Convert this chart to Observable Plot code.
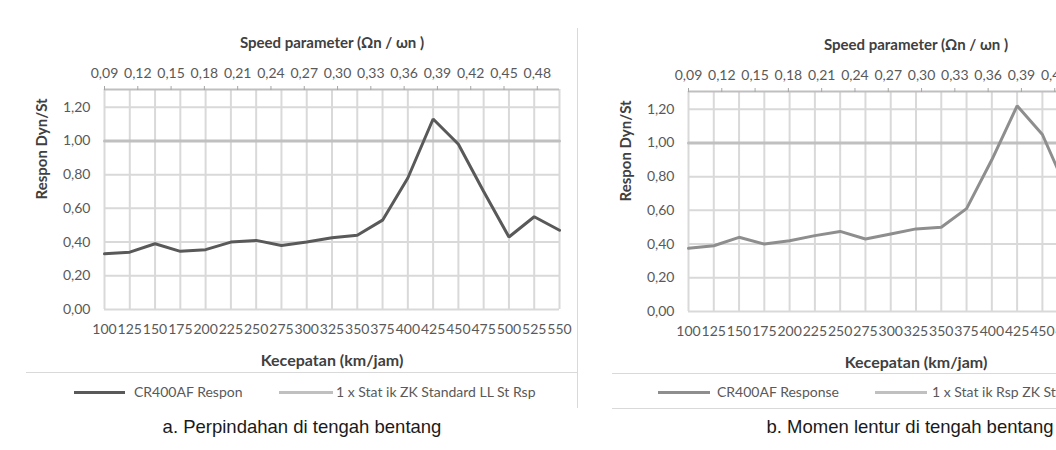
<!DOCTYPE html>
<html>
<head>
<meta charset="utf-8">
<script src="https://cdn.jsdelivr.net/npm/d3@7"></script>
<script src="https://cdn.jsdelivr.net/npm/@observablehq/plot@0.6"></script>
<style>
  html, body { margin: 0; padding: 0; background: #fff; }
  body { width: 1056px; height: 450px; overflow: hidden; position: relative; font-family: Lato, sans-serif; }
  .panel { position: absolute; width: 575px; height: 372px; }
  .panel svg { max-width: none !important; }
  .hline, .vline { position: absolute; background: #D9D9D9; }
  .legend { position: absolute; height: 18px; font-family: Lato, sans-serif; font-size: 14px; color: #595959; white-space: nowrap; }
  .legend .sw { position: absolute; top: 8px; height: 3px; }
  .legend .lb { position: absolute; top: 0; line-height: 18px; }
  .caption { position: absolute; font-family: "Liberation Sans", Arial, sans-serif; font-size: 18.5px; line-height: 22px; color: #1a1a1a; white-space: nowrap; transform: translateX(-50%); }
</style>
</head>
<body>
<div id="chartA" class="panel" style="left:0; top:0;"></div>
<div id="chartB" class="panel" style="left:584px; top:2px;"></div>
<script>
// ---- data ----
const speeds = [100,125,150,175,200,225,250,275,300,325,350,375,400,425,450,475,500,525,550]; // km/jam
const respA = [0.33,0.34,0.39,0.345,0.355,0.40,0.41,0.38,0.40,0.425,0.44,0.53,0.78,1.13,0.98,0.70,0.43,0.55,0.47];
const respB = [0.375,0.39,0.44,0.40,0.42,0.45,0.475,0.43,0.46,0.49,0.50,0.61,0.90,1.22,1.05,0.71,null,null,null];
const statik = [1,1,1,1,1,1,1,1,1,1,1,1,1,1,1,1,1,1,1];
const yTicks = [0,0.2,0.4,0.6,0.8,1.0,1.2];
const speedParamTicks = [0.09,0.12,0.15,0.18,0.21,0.24,0.27,0.30,0.33,0.36,0.39,0.42,0.45,0.48];
const speedParamRange = [0.09, 0.50];
const yMax = 1.305;

const titleTop = "Speed parameter (Ωn / ωn )";
const titleX = "Kecepatan (km/jam)";
const titleY = "Respon Dyn/St";
const legendA = ["CR400AF Respon", "1 x Stat ik ZK Standard LL St Rsp"];
const legendB = ["CR400AF Response", "1 x Stat ik Rsp ZK Standard LL St Rsp"];
const captions = ["a. Perpindahan di tengah bentang", "b. Momen lentur di tengah bentang"];

const colorA = "#595959", colorB = "#8E8E8E", colorStatik = "#C0C0C0", gridColor = "#D9D9D9";

// secondary (top) axis spans the same plot width as the km/jam axis
const paramToKmh = p => speeds[0] + (p - speedParamRange[0]) / (speedParamRange[1] - speedParamRange[0]) * (speeds[speeds.length-1] - speeds[0]);
const kmhToParam = k => speedParamRange[0] + (k - speeds[0]) / (speeds[speeds.length-1] - speeds[0]) * (speedParamRange[1] - speedParamRange[0]);
const comma2 = v => v.toFixed(2).replace(".", ",");

function chart(resp, color) {
  const rows = speeds.map((s, i) => ({s, v: resp[i], st: statik[i]}));
  return Plot.plot({
    width: 575, height: 372,
    marginLeft: 104, marginRight: 16, marginTop: 89, marginBottom: 63,
    style: {fontFamily: "Lato, sans-serif", fontSize: "14px", color: "#595959", background: "transparent", overflow: "visible"},
    x: {type: "linear", domain: [speeds[0], speeds[speeds.length-1]]},
    y: {domain: [0, yMax]},
    marks: [
      Plot.ruleX(speeds, {stroke: gridColor, strokeWidth: 2}),
      Plot.ruleY(yTicks, {stroke: gridColor, strokeWidth: 2}),
      Plot.ruleY([yMax], {stroke: "#BFBFBF", strokeWidth: 2}),
      Plot.axisX({anchor: "bottom", ticks: speeds, tickSize: 0, tickPadding: 15, tickFormat: d => String(d), label: null, fill: "#595959"}),
      Plot.axisX({anchor: "top", ticks: speedParamTicks.map(paramToKmh), tickSize: 4, tickPadding: 8,
        tickFormat: d => comma2(kmhToParam(d)), label: null, stroke: "#A6A6A6", fill: "#595959"}),
      Plot.axisY({ticks: yTicks, tickSize: 0, tickPadding: 14, tickFormat: comma2, label: null, fill: "#595959"}),
      Plot.line(rows, {x: "s", y: "st", stroke: colorStatik, strokeWidth: 3}),
      Plot.line(rows, {x: "s", y: "v", stroke: color, strokeWidth: 3, strokeLinejoin: "miter"}),
      Plot.text([titleTop], {frameAnchor: "top", dy: -46, lineAnchor: "middle", fontWeight: "bold", fontSize: 15, fill: "#404040"}),
      Plot.text([titleX], {frameAnchor: "bottom", dy: 51, lineAnchor: "middle", fontWeight: "bold", fontSize: 16, fill: "#404040"}),
      Plot.text([titleY], {frameAnchor: "left", dx: -62, rotate: -90, lineAnchor: "middle", fontWeight: "bold", fontSize: 15, fill: "#404040", letterSpacing: "0.6px"})
    ]
  });
}

document.getElementById("chartA").append(chart(respA, colorA));
document.getElementById("chartB").append(chart(respB, colorB));

// frame lines, legends, captions
function addDiv(cls, style, text) {
  const d = document.createElement("div");
  d.className = cls;
  Object.assign(d.style, style);
  if (text != null) d.textContent = text;
  document.body.append(d);
  return d;
}
addDiv("vline", {left: "577px", top: "28px", width: "1px", height: "380px"});
addDiv("hline", {left: "26px", top: "372px", width: "551px", height: "1px"});
addDiv("hline", {left: "612px", top: "373px", width: "444px", height: "1px"});
addDiv("hline", {left: "612px", top: "408px", width: "444px", height: "1px"});

function legend(names, colors, swX, top) {
  const lg = addDiv("legend", {left: "0px", top: top + "px", width: "1056px"});
  names.forEach((n, i) => {
    const sw = document.createElement("div");
    sw.className = "sw";
    Object.assign(sw.style, {left: swX[i][0] + "px", width: (swX[i][1] - swX[i][0]) + "px", background: colors[i]});
    const lb = document.createElement("div");
    lb.className = "lb";
    lb.style.left = swX[i][2] + "px";
    lb.textContent = n;
    lg.append(sw, lb);
  });
}
legend(legendA, [colorA, colorStatik], [[74,125,134],[279,333,336]], 383);
legend(legendB, [colorB, colorStatik], [[658,710,717],[875,927,932]], 383);

addDiv("caption", {left: "302px", top: "416px"}, captions[0]);
addDiv("caption", {left: "910px", top: "416px"}, captions[1]);
</script>
</body>
</html>
